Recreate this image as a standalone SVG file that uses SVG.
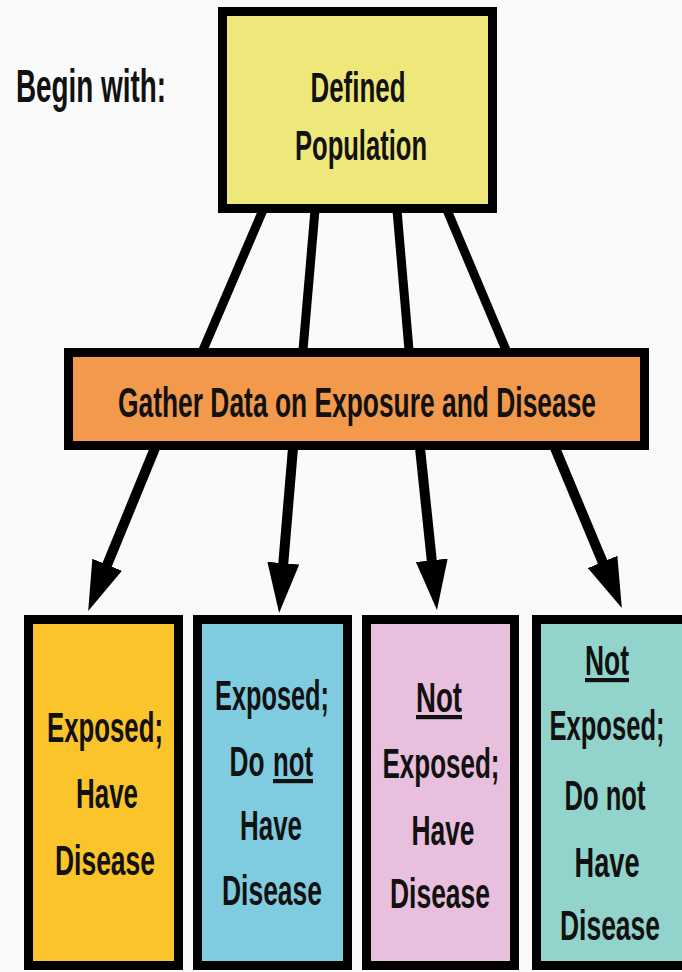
<svg xmlns="http://www.w3.org/2000/svg" width="682" height="972" viewBox="0 0 682 972">
  <style>
    .box { stroke: #000; stroke-width: 9; }
    .lbl { font-family: "Liberation Sans", Arial, sans-serif; font-size: 42px; font-weight: bold; fill: #111; text-anchor: middle; }
    .link { stroke: #000; stroke-width: 9; fill: none; }
    .arrow { stroke: #000; stroke-width: 10; fill: none; marker-end: url(#head); }
    .ul { text-decoration: underline; }
  </style>
  <defs>
    <marker id="head" markerUnits="userSpaceOnUse" viewBox="0 0 50 32" markerWidth="50" markerHeight="32" refX="12" refY="16" orient="auto">
      <path d="M0,0 L50,16 L0,32 Z" fill="#000"/>
    </marker>
  </defs>

  <rect width="682" height="972" fill="#FAFAFA"/>

  <!-- heading -->
  <text x="16" y="102" style="font-family: 'Liberation Sans', Arial, sans-serif; font-size: 47px; font-weight: bold; fill: #111;" textLength="150" lengthAdjust="spacingAndGlyphs">Begin with:</text>

  <!-- connectors -->
  <g id="connectors">
    <line class="link" x1="263" y1="210" x2="203" y2="350"/>
    <line class="link" x1="315" y1="210" x2="303" y2="350"/>
    <line class="link" x1="397" y1="210" x2="409" y2="350"/>
    <line class="link" x1="447" y1="210" x2="506" y2="350"/>
    <line class="arrow" x1="155" y1="448" x2="102.6" y2="575.9"/>
    <line class="arrow" x1="293" y1="448" x2="282.3" y2="575.1"/>
    <line class="arrow" x1="420" y1="448" x2="433.0" y2="572.2"/>
    <line class="arrow" x1="555" y1="448" x2="607.2" y2="573.0"/>
  </g>

  <g id="population">
    <rect class="box" x="222.5" y="11.5" width="270" height="197" fill="#EEE87A"/>
    <text class="lbl" x="358" y="102" textLength="95" lengthAdjust="spacingAndGlyphs">Defined</text>
    <text class="lbl" x="361" y="160" textLength="132" lengthAdjust="spacingAndGlyphs">Population</text>
  </g>

  <g id="gather">
    <rect class="box" x="68.5" y="352.5" width="576" height="93" fill="#F2994C"/>
    <text class="lbl" x="357" y="417" style="font-size:43px" textLength="478" lengthAdjust="spacingAndGlyphs">Gather Data on Exposure and Disease</text>
  </g>

  <g id="exposed-disease">
    <rect class="box" x="28.5" y="619.5" width="150" height="346" fill="#FBC42B"/>
    <text class="lbl" x="105" y="742" textLength="116" lengthAdjust="spacingAndGlyphs">Exposed;</text>
    <text class="lbl" x="107" y="808" textLength="62" lengthAdjust="spacingAndGlyphs">Have</text>
    <text class="lbl" x="105" y="875" textLength="100" lengthAdjust="spacingAndGlyphs">Disease</text>
  </g>

  <g id="exposed-no-disease">
    <rect class="box" x="197.5" y="619.5" width="150" height="346" fill="#7FCCE0"/>
    <text class="lbl" x="272" y="710" textLength="114" lengthAdjust="spacingAndGlyphs">Exposed;</text>
    <text class="lbl" x="247" y="776" textLength="35" lengthAdjust="spacingAndGlyphs">Do</text>
    <text class="lbl ul" x="293" y="776" textLength="40" lengthAdjust="spacingAndGlyphs">not</text>
    <text class="lbl" x="271" y="840" textLength="62" lengthAdjust="spacingAndGlyphs">Have</text>
    <text class="lbl" x="272" y="905" textLength="100" lengthAdjust="spacingAndGlyphs">Disease</text>
  </g>

  <g id="unexposed-disease">
    <rect class="box" x="366.5" y="619.5" width="148" height="346" fill="#E8BFDC"/>
    <text class="lbl ul" x="439" y="712" textLength="46" lengthAdjust="spacingAndGlyphs">Not</text>
    <text class="lbl" x="441" y="778" textLength="117" lengthAdjust="spacingAndGlyphs">Exposed;</text>
    <text class="lbl" x="443" y="845" textLength="63" lengthAdjust="spacingAndGlyphs">Have</text>
    <text class="lbl" x="440" y="908" textLength="100" lengthAdjust="spacingAndGlyphs">Disease</text>
  </g>

  <g id="unexposed-no-disease">
    <rect class="box" x="536.5" y="619.5" width="152" height="346" fill="#92D4CB"/>
    <text class="lbl ul" x="607" y="675" textLength="44" lengthAdjust="spacingAndGlyphs">Not</text>
    <text class="lbl" x="607" y="740" textLength="115" lengthAdjust="spacingAndGlyphs">Exposed;</text>
    <text class="lbl" x="605" y="810" textLength="81" lengthAdjust="spacingAndGlyphs">Do not</text>
    <text class="lbl" x="607" y="877" textLength="65" lengthAdjust="spacingAndGlyphs">Have</text>
    <text class="lbl" x="610" y="940" textLength="100" lengthAdjust="spacingAndGlyphs">Disease</text>
  </g>
</svg>
